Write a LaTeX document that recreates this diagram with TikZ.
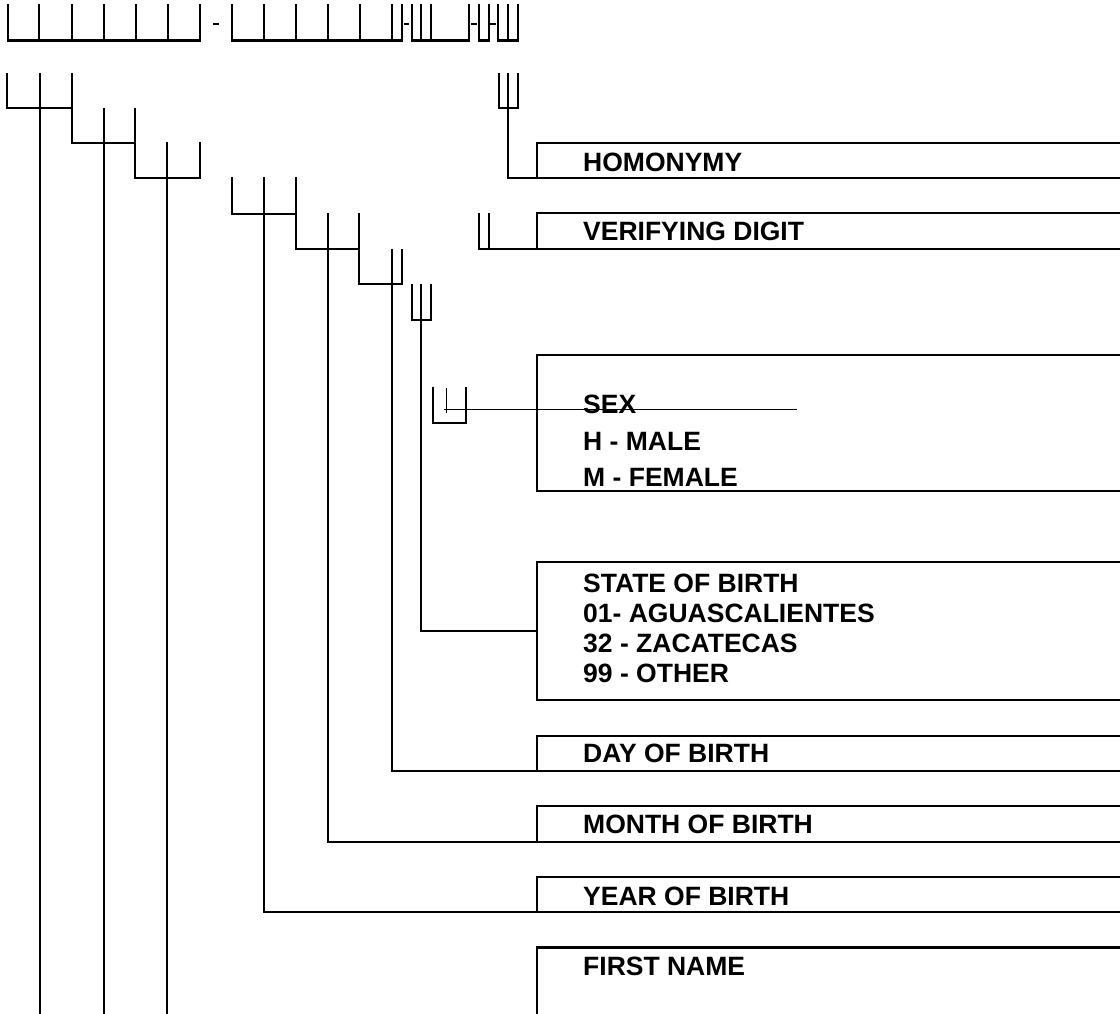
\documentclass[tikz,border=0pt]{standalone}
\usepackage{fontspec}
\setmainfont{Liberation Sans}
\begin{document}
\begin{tikzpicture}[x=1pt,y=-1pt,line join=miter]
\tikzset{
  wire/.style={line width=2.2pt},
  thinwire/.style={line width=1.3pt},
  box/.style={draw,line width=2.2pt,rectangle,anchor=north west,minimum width=700pt,inner sep=0pt,outer sep=0pt},
  lbl/.style={anchor=west,inner sep=0pt,font=\bfseries\fontsize{26.5}{30}\selectfont},
}
\clip (0,0) rectangle (1120,1013);
% ---------- first row: character cells ----------
\foreach \a/\b in {7.9/199.6,232.1/402.1,411.8/468.6,478.6/488.6,498.2/517.9}
  \draw[wire] (\a,4.3) -- (\a,40.4) -- (\b,40.4) -- (\b,4.3);
\foreach \x in {39.3,72.1,103.9,136.1,168.2,263.9,296,327.9,360,392.1,420.7,430.7,507.9}
  \draw[wire] (\x,4.3) -- (\x,40.4);
\foreach \a/\b in {213/218.6,403.6/409,471.4/476.8,490.4/496.4}
  \draw[wire] (\a,24) -- (\b,24);
% ---------- boxes ----------
\node[box,minimum height=35pt]   (hom)   at (537,142.7) {};
\node[box,minimum height=35.5pt] (ver)   at (537,213.3) {};
\node[box,minimum height=136pt]  (sex)   at (537,355) {};
\node[box,minimum height=138.3pt](state) at (537,561.7) {};
\node[box,minimum height=34.7pt] (day)   at (537,736) {};
\node[box,minimum height=36pt]   (month) at (537,805.7) {};
\node[box,minimum height=34.4pt] (year)  at (537,877.3) {};
\node[box,minimum height=100pt]  (first) at (537,947.5) {};
% ---------- labels ----------
\node[lbl] (thom) at (583,162.7) {HOMONYMY};
\node[lbl] (tver) at (583,231) {VERIFYING DIGIT};
\node[lbl] (tsex1) at (583,404) {SEX};
\node[lbl] (tsex2) at (583,441) {H - MALE};
\node[lbl] (tsex3) at (583,477) {M - FEMALE};
\node[lbl] (tst1) at (583,583.3) {STATE OF BIRTH};
\node[lbl] (tst2) at (583,613.3) {01- AGUASCALIENTES};
\node[lbl] (tst3) at (583,643.3) {32 - ZACATECAS};
\node[lbl] (tst4) at (583,673.3) {99 - OTHER};
\node[lbl] (tday) at (583,753.5) {DAY OF BIRTH};
\node[lbl] (tmon) at (583,824.5) {MONTH OF BIRTH};
\node[lbl] (tyear) at (583,896) {YEAR OF BIRTH};
\node[lbl] (tfirst) at (583,966.5) {FIRST NAME};
% ---------- tree of brackets ----------
\draw[wire] (7.3,73.3) -- (7.3,107.7) -- (71.7,107.7) -- (71.7,73.3);
\draw[wire] (40,73.3) -- (40,1020);
\draw[wire] (71.7,107.7) -- (71.7,142.7) -- (135,142.7) -- (135,107.7);
\draw[wire] (104,107.7) -- (104,1020);
\draw[wire] (135,142.7) -- (135,177.7) -- (200,177.7) -- (200,142.3);
\draw[wire] (167.3,142.3) -- (167.3,1020);
\draw[wire] (231.7,177.3) -- (231.7,213.7) -- (296,213.7) -- (296,177.3);
\draw[wire] (263.7,177.3) |- (year.south west);
\draw[wire] (296,213.7) -- (296,249) -- (359.3,249) -- (359.3,213.3);
\draw[wire] (327.7,213.3) |- (month.south west);
\draw[wire] (359.3,249) -- (359.3,284) -- (402,284) -- (402,248.7);
\draw[wire] (392,248.7) |- (day.south west);
\draw[wire] (412.3,283.5) -- (412.3,320) -- (431,320) -- (431,283.5);
\draw[wire] (421,283.5) |- (state.west);
% sex bracket
\draw[wire] (432.7,386.7) -- (432.7,422.7) -- (465.7,422.7) -- (465.7,386.7);
\draw[thinwire] (446.7,388) -- (446.7,413.3);
\draw[thinwire] (444.3,409.3) -- (797.3,409.3);
% verifying digit
\draw[wire] (479,213.3) |- (ver.south west);
\draw[wire] (488.7,213.3) -- (488.7,249);
% homonymy
\draw[wire] (499,73.3) -- (499,107.7) -- (517.7,107.7) -- (517.7,73.3);
\draw[wire] (507.7,73.3) |- (hom.south west);
\end{tikzpicture}
\end{document}
